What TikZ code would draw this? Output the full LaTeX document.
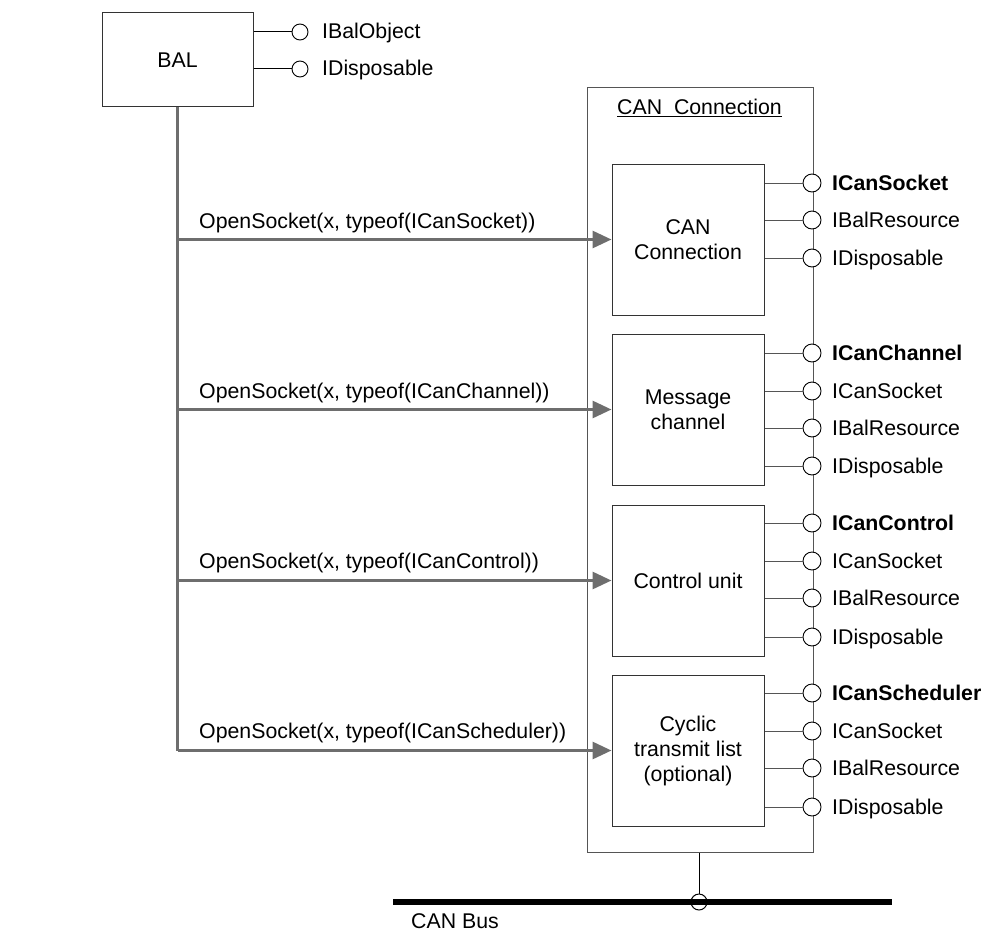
\documentclass[tikz,border=0pt]{standalone}
\usepackage{fontspec}
\setmainfont{Liberation Sans}
\usetikzlibrary{arrows.meta}
\definecolor{arrowgray}{HTML}{6E6E6E}
\definecolor{linegray}{HTML}{555555}
\begin{document}
\begin{tikzpicture}[x=1pt,y=-1pt,
  font=\fontsize{21.3}{25}\selectfont,
  boxnode/.style={draw=black!80, line width=1pt, rectangle, inner sep=0pt, align=center, fill=white},
  outerbox/.style={draw=linegray, line width=1pt, rectangle, inner sep=0pt},
  lolli/.style={circle, draw=black, fill=white, line width=0.9pt, minimum size=18pt, inner sep=0pt},
  ballolli/.style={circle, draw=black, fill=white, line width=0.9pt, minimum size=16pt, inner sep=0pt},
  conn/.style={draw=linegray, line width=1pt},
  iflabel/.style={anchor=base west, inner sep=0pt},
  trunk/.style={draw=arrowgray, line width=3pt},
  garrow/.style={draw=arrowgray, line width=3pt, -{Triangle[length=19pt,width=17pt,fill=arrowgray]}},
  calllabel/.style={anchor=base west, inner sep=0pt}
]
\useasboundingbox (0,0) rectangle (982,931);

% BAL
\node[boxnode, minimum width=151pt, minimum height=94pt] (bal) at (177.5,60) {BAL};
\node[ballolli] (bo1) at (300,32) {};
\node[ballolli] (bo2) at (300,69) {};
\draw[conn, draw=black] (bal.east |- bo1) -- (bo1);
\draw[conn, draw=black] (bal.east |- bo2) -- (bo2);
\node[iflabel] (bl1) at (322,39) {IBalObject};
\node[iflabel] (bl2) at (322,76) {IDisposable};

% outer CAN Connection
\node[outerbox, minimum width=226pt, minimum height=764pt] (can) at (700,470) {};
\node[anchor=base, inner sep=0pt] (cantitle) at (699.5,115) {\underline{CAN\ \ Connection}};

% inner boxes
\node[boxnode, minimum width=152pt, minimum height=151pt] (b1) at (688,239.5) {CAN\\Connection};
\node[boxnode, minimum width=152pt, minimum height=151pt] (b2) at (688,409.5) {Message\\channel};
\node[boxnode, minimum width=152pt, minimum height=151pt] (b3) at (688,580.5) {Control unit};
\node[boxnode, minimum width=152pt, minimum height=151pt] (b4) at (688,750.5) {Cyclic\\transmit list\\(optional)};

% lollipops box 1
\node[lolli] (c11) at (812,183) {};
\node[lolli] (c12) at (812,220) {};
\node[lolli] (c13) at (812,258) {};
% box 2
\node[lolli] (c21) at (812,353) {};
\node[lolli] (c22) at (812,391) {};
\node[lolli] (c23) at (812,428) {};
\node[lolli] (c24) at (812,466) {};
% box 3
\node[lolli] (c31) at (812,523) {};
\node[lolli] (c32) at (812,561) {};
\node[lolli] (c33) at (812,598) {};
\node[lolli] (c34) at (812,637) {};
% box 4
\node[lolli] (c41) at (812,693) {};
\node[lolli] (c42) at (812,731) {};
\node[lolli] (c43) at (812,768) {};
\node[lolli] (c44) at (812,807) {};

\foreach \b/\c in {b1/c11,b1/c12,b1/c13,b2/c21,b2/c22,b2/c23,b2/c24,b3/c31,b3/c32,b3/c33,b3/c34,b4/c41,b4/c42,b4/c43,b4/c44}{
  \draw[conn] (\b.east |- \c) -- (\c.west);
}

\node[iflabel] (l11) at (832,190) {\textbf{ICanSocket}};
\node[iflabel] (l12) at (832,227) {IBalResource};
\node[iflabel] (l13) at (832,265) {IDisposable};
\node[iflabel] (l21) at (832,360) {\textbf{ICanChannel}};
\node[iflabel] (l22) at (832,398) {ICanSocket};
\node[iflabel] (l23) at (832,435) {IBalResource};
\node[iflabel] (l24) at (832,473) {IDisposable};
\node[iflabel] (l31) at (832,530) {\textbf{ICanControl}};
\node[iflabel] (l32) at (832,568) {ICanSocket};
\node[iflabel] (l33) at (832,605) {IBalResource};
\node[iflabel] (l34) at (832,644) {IDisposable};
\node[iflabel] (l41) at (832,700) {\textbf{ICanScheduler}};
\node[iflabel] (l42) at (832,738) {ICanSocket};
\node[iflabel] (l43) at (832,775) {IBalResource};
\node[iflabel] (l44) at (832,814) {IDisposable};

% trunk and arrows
\draw[trunk] (bal.south) -- (bal.south |- b4.west);
\draw[garrow] (bal.south |- b1.west) -- (b1.west);
\draw[garrow] (bal.south |- b2.west) -- (b2.west);
\draw[garrow] (bal.south |- b3.west) -- (b3.west);
\draw[garrow] (bal.south |- b4.west) -- (b4.west);
\node[calllabel] (a1) at (199,228) {OpenSocket(x, typeof(ICanSocket))};
\node[calllabel] (a2) at (199,398) {OpenSocket(x, typeof(ICanChannel))};
\node[calllabel] (a3) at (199,568) {OpenSocket(x, typeof(ICanControl))};
\node[calllabel] (a4) at (199,738) {OpenSocket(x, typeof(ICanScheduler))};

% CAN bus
\coordinate (busL) at (393,902);
\coordinate (busR) at (892,902);
\draw[line width=5.5pt, black] (busL) -- (busR);
\node[circle, draw=black, line width=1pt, minimum size=16pt, inner sep=0pt] (tap) at (699,902) {};
\draw[line width=1pt] (tap |- can.south) -- (tap.north);
\node[iflabel] (buslabel) at (411,928) {CAN Bus};
\end{tikzpicture}
\end{document}
